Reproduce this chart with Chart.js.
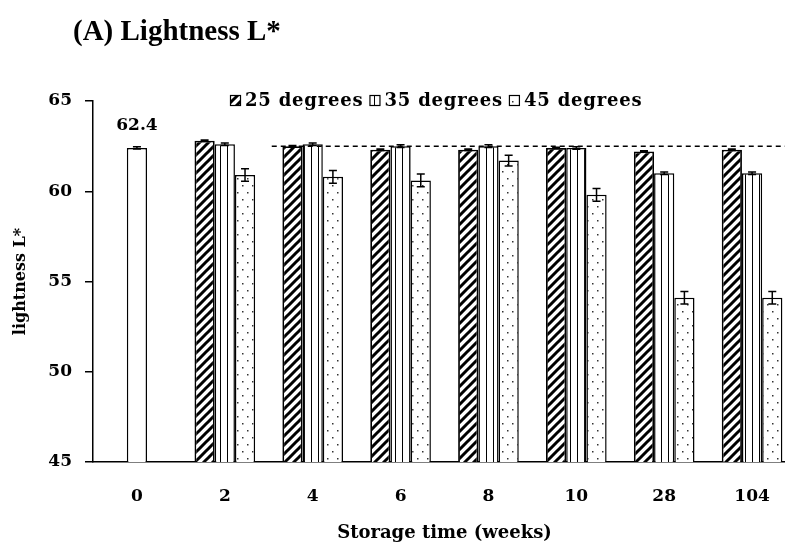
<!DOCTYPE html>
<html>
<head>
<meta charset="utf-8">
<script src="https://cdn.jsdelivr.net/npm/chart.js@4/dist/chart.umd.min.js"></script>
<style>
  html, body { margin: 0; padding: 0; background: #fff; overflow: hidden; }
  #wrap { width: 800px; height: 546px; }
</style>
</head>
<body>
<div id="wrap"><canvas id="chart" width="800" height="546"></canvas></div>
<script>
// Data
const weeks = ["0", "2", "4", "6", "8", "10", "28", "104"];
const control = [62.4, null, null, null, null, null, null, null];
const deg25 = [null, 62.8, 62.5, 62.3, 62.3, 62.4, 62.2, 62.3];
const deg35 = [null, 62.6, 62.6, 62.5, 62.5, 62.4, 61.0, 61.0];
const deg45 = [null, 60.9, 60.8, 60.6, 61.7, 59.8, 54.1, 54.1];
const err0 = [0.06, null, null, null, null, null, null, null];
const err25 = [null, 0.04, 0.04, 0.04, 0.04, 0.04, 0.04, 0.04];
const err35 = [null, 0.07, 0.07, 0.07, 0.07, 0.07, 0.07, 0.07];
const err45 = [null, 0.35, 0.35, 0.35, 0.3, 0.35, 0.35, 0.35];
const refLine = 62.5;
const yTicks = [45, 50, 55, 60, 65];

const serif = "'DejaVu Serif', 'Liberation Serif', serif";

// fill patterns
function makePattern(w, h, paint) {
    const c = document.createElement("canvas");
    c.width = w; c.height = h;
    const g = c.getContext("2d");
    g.fillStyle = "#fff";
    g.fillRect(0, 0, w, h);
    paint(g);
    return g.createPattern(c, "repeat");
}

const hatch = makePattern(9, 9, g => {
    g.strokeStyle = "#000";
    g.lineWidth = 3;
    g.beginPath();
    g.moveTo(-2, 11); g.lineTo(11, -2);
    g.moveTo(-2, 2); g.lineTo(2, -2);
    g.moveTo(7, 11); g.lineTo(11, 7);
    g.stroke();
});

const stripes = makePattern(7, 4, g => {
    g.fillStyle = "#000";
    g.fillRect(3, 0, 1, 4);
});

const dots = makePattern(10, 14, g => {
    g.fillStyle = "#333";
    g.fillRect(2, 3, 1.5, 1.5);
    g.fillRect(7, 10, 1.5, 1.5);
});

const extras = {
    id: "extras",
    afterDatasetsDraw(chart) {
        const { ctx, scales: { x, y }, chartArea } = chart;

        // dashed reference line
        const start = (x.getPixelForValue(1) + x.getPixelForValue(2)) / 2 + 3;
        ctx.save();
        ctx.strokeStyle = "#000";
        ctx.lineWidth = 1.5;
        ctx.setLineDash([5, 4]);
        ctx.beginPath();
        ctx.moveTo(start, y.getPixelForValue(refLine));
        ctx.lineTo(chartArea.right + 10, y.getPixelForValue(refLine));
        ctx.stroke();
        ctx.restore();

        // error bars
        chart.data.datasets.forEach((ds, i) => {
            const meta = chart.getDatasetMeta(i);
            meta.data.forEach((bar, j) => {
                const v = ds.data[j], e = ds.errors[j];
                if (v == null || e == null) return;
                const top = y.getPixelForValue(v + e);
                const bot = y.getPixelForValue(v - e);
                ctx.save();
                ctx.strokeStyle = "#000";
                ctx.lineWidth = 1.5;
                ctx.beginPath();
                ctx.moveTo(bar.x, top); ctx.lineTo(bar.x, bot);
                ctx.moveTo(bar.x - 4, top); ctx.lineTo(bar.x + 4, top);
                ctx.moveTo(bar.x - 4, bot); ctx.lineTo(bar.x + 4, bot);
                ctx.stroke();
                ctx.restore();
            });
        });

        // value label over the week 0 bar
        const c0 = chart.getDatasetMeta(0).data[0];
        ctx.save();
        ctx.fillStyle = "#000";
        ctx.font = "bold 17px " + serif;
        ctx.textAlign = "center";
        ctx.textBaseline = "middle";
        ctx.fillText(control[0].toFixed(1), c0.x, y.getPixelForValue(control[0]) - 22);
        ctx.restore();
    },
    afterDraw(chart) {
        const { ctx } = chart;
        ctx.save();
        // panel title
        ctx.fillStyle = "#000";
        ctx.font = "bold 29px 'Liberation Serif', 'Times New Roman', serif";
        ctx.textBaseline = "middle";
        ctx.textAlign = "left";
        ctx.fillText("(A) Lightness L*", 73, 33);

        // legend
        ctx.font = "bold 18px " + serif;
        ctx.letterSpacing = "0.8px";
        let lx = 230;
        const ly = 101;
        chart.data.datasets.slice(1).forEach(ds => {
            ctx.fillStyle = ds.backgroundColor;
            ctx.fillRect(lx, ly - 6, 11, 11);
            ctx.strokeStyle = "#000";
            ctx.lineWidth = 1.2;
            ctx.strokeRect(lx + 0.5, ly - 5.5, 10, 10);
            ctx.fillStyle = "#000";
            ctx.fillText(ds.label, lx + 15, ly);
            lx += 15 + ctx.measureText(ds.label).width + 6;
        });
        ctx.restore();
    }
};

new Chart(document.getElementById("chart"), {
    type: "bar",
    data: {
        labels: weeks,
        datasets: [
            {
                label: "0 weeks",
                data: control,
                errors: err0,
                grouped: false,
                backgroundColor: "#fff",
                borderColor: "#000",
                borderWidth: 1.5,
                categoryPercentage: 0.23,
                barPercentage: 1
            },
            {
                label: "25 degrees",
                data: deg25,
                errors: err25,
                backgroundColor: hatch,
                borderColor: "#000",
                borderWidth: 1.8,
                categoryPercentage: 0.69,
                barPercentage: 1
            },
            {
                label: "35 degrees",
                data: deg35,
                errors: err35,
                backgroundColor: stripes,
                borderColor: "#000",
                borderWidth: 1.5,
                categoryPercentage: 0.69,
                barPercentage: 1
            },
            {
                label: "45 degrees",
                data: deg45,
                errors: err45,
                backgroundColor: dots,
                borderColor: "#000",
                borderWidth: 1.5,
                categoryPercentage: 0.69,
                barPercentage: 1
            }
        ]
    },
    options: {
        responsive: false,
        animation: false,
        layout: { padding: { top: 101, right: 4, left: 0, bottom: 0 } },
        plugins: {
            legend: { display: false },
            tooltip: { enabled: false }
        },
        scales: {
            x: {
                grid: { display: false, drawTicks: false },
                border: { display: true, color: "#000", width: 1.5 },
                ticks: {
                    color: "#000",
                    padding: 24,
                    font: { family: serif, size: 17, weight: "bold" }
                },
                title: {
                    display: true,
                    text: "Storage time (weeks)",
                    color: "#000",
                    font: { family: serif, size: 18, weight: "bold" },
                    padding: { top: 0, bottom: 2 }
                },
                afterFit(scale) { scale.height = 84; }
            },
            y: {
                min: 45,
                max: 65,
                afterBuildTicks(scale) { scale.ticks = yTicks.map(v => ({ value: v })); },
                grid: { drawOnChartArea: false, tickLength: 8, color: "#000", lineWidth: 1.5 },
                border: { display: true, color: "#000", width: 1.5 },
                ticks: {
                    color: "#000",
                    padding: 13,
                    font: { family: serif, size: 17, weight: "bold" }
                },
                title: {
                    display: true,
                    text: "lightness L*",
                    color: "#000",
                    font: { family: serif, size: 16, weight: "bold" },
                    padding: { top: 11, bottom: 0 }
                },
                afterFit(scale) { scale.width = 93; }
            }
        }
    },
    plugins: [extras]
});
</script>
</body>
</html>
